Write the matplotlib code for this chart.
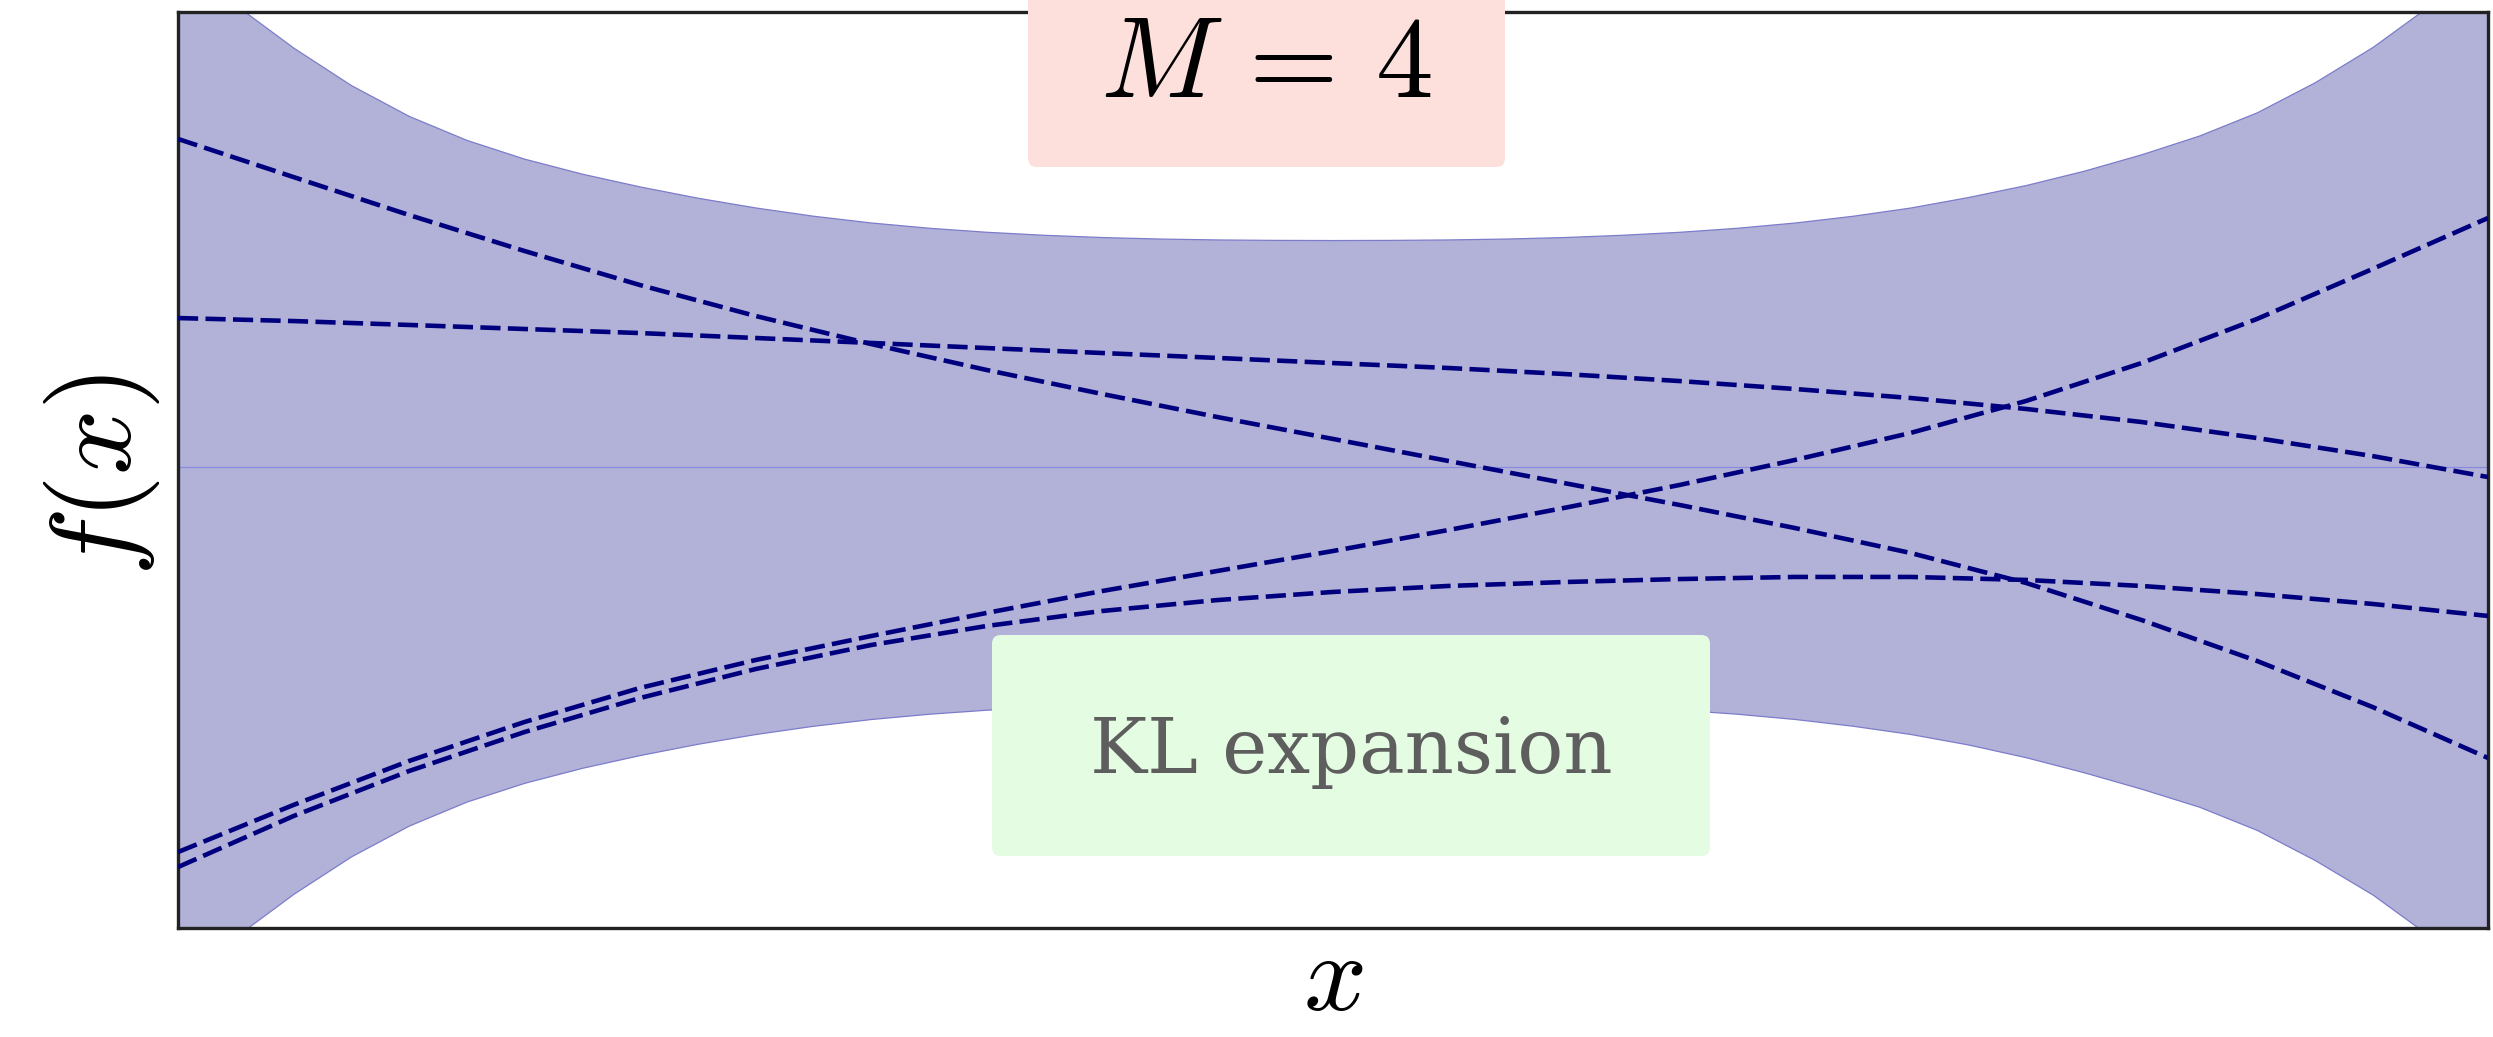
import numpy as np
import matplotlib
matplotlib.use("Agg")
import matplotlib.pyplot as plt
from matplotlib.patches import FancyBboxPatch

plt.rcParams["mathtext.fontset"] = "cm"

# ---------------- data ----------------
sample_x = [0.00, 0.05, 0.10, 0.15, 0.20, 0.25, 0.30, 0.35, 0.40, 0.45, 0.50,
            0.55, 0.60, 0.65, 0.70, 0.75, 0.80, 0.85, 0.90, 0.95, 1.00]

sample_a = [2.187, 1.933, 1.680, 1.440, 1.213, 1.007, 0.820, 0.647, 0.487, 0.333, 0.187,
            0.040, -0.107, -0.253, -0.407, -0.573, -0.773, -1.020, -1.293, -1.600, -1.940]
sample_b = [0.993, 0.973, 0.947, 0.920, 0.893, 0.860, 0.827, 0.793, 0.760, 0.727, 0.693,
            0.660, 0.620, 0.573, 0.520, 0.460, 0.387, 0.300, 0.193, 0.073, -0.067]
sample_c = [-2.567, -2.253, -1.960, -1.700, -1.473, -1.287, -1.127, -0.973, -0.827, -0.693, -0.560,
            -0.420, -0.273, -0.120, 0.047, 0.227, 0.440, 0.693, 0.987, 1.320, 1.660]
sample_d = [-2.667, -2.327, -2.027, -1.767, -1.540, -1.347, -1.187, -1.060, -0.960, -0.887, -0.833,
            -0.793, -0.767, -0.747, -0.733, -0.733, -0.753, -0.793, -0.847, -0.913, -0.993]

band_x = [0.000, 0.025, 0.050, 0.075, 0.100, 0.125, 0.150, 0.175, 0.200, 0.225,
          0.250, 0.275, 0.300, 0.325, 0.350, 0.375, 0.400, 0.425, 0.450, 0.475,
          0.500, 0.525, 0.550, 0.575, 0.600, 0.625, 0.650, 0.675, 0.700, 0.725,
          0.750, 0.775, 0.800, 0.825, 0.850, 0.875, 0.900, 0.925, 0.950, 0.975, 1.000]
band_upper = [3.400, 3.080, 2.795, 2.545, 2.340, 2.180, 2.055, 1.955, 1.870, 1.795,
              1.730, 1.675, 1.630, 1.595, 1.568, 1.548, 1.533, 1.523, 1.517, 1.514,
              1.513, 1.514, 1.517, 1.523, 1.533, 1.548, 1.568, 1.595, 1.630, 1.675,
              1.730, 1.800, 1.880, 1.975, 2.085, 2.210, 2.365, 2.565, 2.800, 3.080, 3.400]
band_lower = [-3.450, -3.130, -2.845, -2.595, -2.390, -2.230, -2.105, -2.005, -1.920, -1.845,
              -1.780, -1.725, -1.680, -1.645, -1.618, -1.598, -1.583, -1.573, -1.567, -1.564,
              -1.563, -1.564, -1.567, -1.573, -1.583, -1.598, -1.618, -1.645, -1.680, -1.725,
              -1.780, -1.850, -1.935, -2.035, -2.145, -2.265, -2.420, -2.620, -2.850, -3.130, -3.450]
band_mean = [0.0] * len(band_x)

title_text = r"$M\,=\,4$"
method_text = "KL expansion"
x_label = r"$x$"
y_label = r"$f(x)$"

# ---------------- figure ----------------
W, H = 2493, 1037
fig = plt.figure(figsize=(W / 100, H / 100), dpi=100)
ax = fig.add_axes([178 / W, 1 - 928 / H, (2488 - 178) / W, (928 - 12) / H])

ax.fill_between(band_x, band_lower, band_upper, facecolor="#B2B2D8",
                edgecolor="#7C7CCB", linewidth=0.9, zorder=1)
ax.plot(band_x, band_mean, color="#8A8ADF", linewidth=0.9, zorder=2)

for ys in (sample_a, sample_b, sample_c, sample_d):
    ax.plot(sample_x, ys, color="#00007F", linewidth=3.3,
            linestyle=(0, (4.4, 1.6)), zorder=3)

ax.set_xlim(0, 1)
ax.set_ylim(-461 / 150, 455 / 150)
ax.set_xticks([])
ax.set_yticks([])
for s in ax.spines.values():
    s.set_color("#222222")
    s.set_linewidth(2.4)

# labels
fig.text(1333 / W, 1 - 1033 / H, x_label, fontsize=80, ha="center", va="bottom")
fig.text(102 / W, 1 - 475 / H, y_label, fontsize=83, ha="center", va="center", rotation=90)

# boxes
asp = W / H
pink = FancyBboxPatch((1028 / W, 1 - 167 / H), (1505 - 1028) / W, 0.2,
                      boxstyle="round,pad=0,rounding_size=0.0035", mutation_aspect=asp,
                      transform=fig.transFigure, facecolor="#FDE0DC", edgecolor="none", zorder=10)
fig.patches.append(pink)
fig.text(1266 / W, 1 - 97 / H, title_text, fontsize=83, ha="center", va="baseline", zorder=11)

green = FancyBboxPatch((992 / W, 1 - 856 / H), (1710 - 992) / W, (856 - 635) / H,
                       boxstyle="round,pad=0,rounding_size=0.0035", mutation_aspect=asp,
                       transform=fig.transFigure, facecolor="#E4FCE2", edgecolor="none", zorder=10)
fig.patches.append(green)
fig.text(1351 / W, 1 - 773 / H, method_text, fontsize=55, family="DejaVu Serif",
         color="#5E5E5E", ha="center", va="baseline", zorder=11)

fig.savefig("out.png", dpi=100)
